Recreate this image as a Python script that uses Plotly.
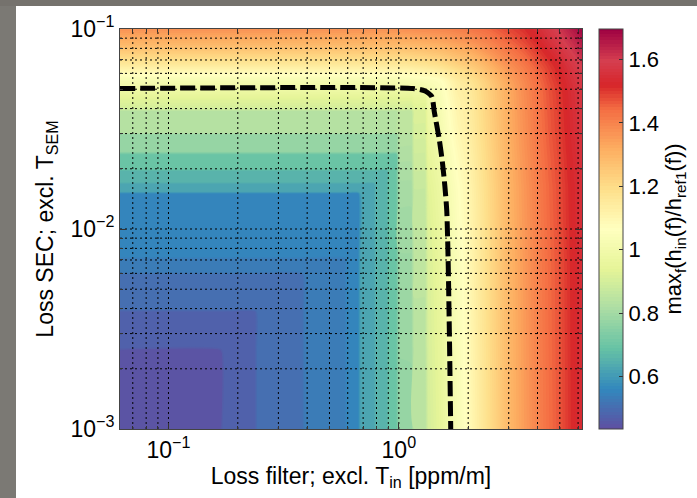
import math
import plotly.graph_objects as go

# ---------------- data ----------------
loss_filter = [0.0616, 0.1675, 0.1725, 0.2365, 0.2435, 0.380, 0.392, 0.581, 0.599,
               0.665, 0.685, 0.778, 0.802, 0.887, 0.913, 0.975, 1.005, 1.133, 1.167,
               1.30, 1.34, 1.5, 1.65, 1.8, 2.0, 2.25, 2.5, 3.0, 3.5, 4.0, 4.5, 5.0,
               5.6, 6.24]
loss_sec = [0.001, 0.00246, 0.00254, 0.00384, 0.00396, 0.00591, 0.00609, 0.00709,
            0.00731, 0.0150, 0.0154, 0.01675, 0.01725, 0.0195, 0.0201, 0.0236,
            0.0244, 0.0296, 0.0304, 0.0389, 0.0401, 0.045, 0.05, 0.055, 0.061,
            0.066, 0.075, 0.085, 0.1]
ratio_max = [
    [0.45, 0.45, 0.475, 0.475, 0.505, 0.505, 0.535, 0.535, 0.56, 0.56, 0.625, 0.625, 0.66, 0.66, 0.70, 0.70,
     0.775, 0.775, 0.84, 0.84, 0.90, 0.94, 0.99, 1.03, 1.08, 1.145, 1.20, 1.29, 1.35, 1.40, 1.44, 1.47, 1.51, 1.54],
    [0.45, 0.45, 0.475, 0.475, 0.505, 0.505, 0.535, 0.535, 0.56, 0.56, 0.625, 0.625, 0.66, 0.66, 0.70, 0.70,
     0.781, 0.781, 0.846, 0.846, 0.906, 0.946, 0.996, 1.036, 1.084, 1.148, 1.203, 1.292, 1.352, 1.402, 1.442, 1.472, 1.512, 1.542],
    [0.475, 0.475, 0.475, 0.475, 0.505, 0.505, 0.535, 0.535, 0.56, 0.56, 0.625, 0.625, 0.66, 0.66, 0.70, 0.70,
     0.781, 0.781, 0.846, 0.846, 0.906, 0.946, 0.996, 1.036, 1.084, 1.148, 1.203, 1.292, 1.352, 1.402, 1.442, 1.472, 1.512, 1.542],
    [0.475, 0.475, 0.475, 0.475, 0.505, 0.505, 0.535, 0.535, 0.56, 0.56, 0.625, 0.625, 0.66, 0.66, 0.70, 0.70,
     0.784, 0.784, 0.849, 0.849, 0.909, 0.949, 0.999, 1.039, 1.086, 1.15, 1.204, 1.293, 1.353, 1.403, 1.443, 1.473, 1.513, 1.543],
    [0.505, 0.505, 0.505, 0.505, 0.505, 0.505, 0.535, 0.535, 0.56, 0.56, 0.625, 0.625, 0.66, 0.66, 0.70, 0.70,
     0.784, 0.784, 0.849, 0.849, 0.909, 0.949, 0.999, 1.039, 1.086, 1.15, 1.204, 1.293, 1.353, 1.403, 1.443, 1.473, 1.513, 1.543],
    [0.505, 0.505, 0.505, 0.505, 0.505, 0.505, 0.535, 0.535, 0.56, 0.56, 0.625, 0.625, 0.66, 0.66, 0.70, 0.70,
     0.787, 0.787, 0.852, 0.852, 0.912, 0.952, 1.002, 1.042, 1.088, 1.152, 1.205, 1.294, 1.354, 1.404, 1.444, 1.474, 1.514, 1.544],
    [0.535, 0.535, 0.535, 0.535, 0.535, 0.535, 0.535, 0.535, 0.56, 0.56, 0.625, 0.625, 0.66, 0.66, 0.70, 0.70,
     0.787, 0.787, 0.852, 0.852, 0.912, 0.952, 1.002, 1.042, 1.088, 1.152, 1.205, 1.294, 1.354, 1.404, 1.444, 1.474, 1.514, 1.544],
    [0.535, 0.535, 0.535, 0.535, 0.535, 0.535, 0.535, 0.535, 0.56, 0.56, 0.625, 0.625, 0.66, 0.66, 0.70, 0.70,
     0.789, 0.789, 0.854, 0.854, 0.914, 0.954, 1.004, 1.044, 1.09, 1.153, 1.206, 1.295, 1.355, 1.405, 1.445, 1.475, 1.515, 1.545],
    [0.56, 0.56, 0.56, 0.56, 0.56, 0.56, 0.56, 0.56, 0.56, 0.56, 0.625, 0.625, 0.66, 0.66, 0.70, 0.70,
     0.789, 0.789, 0.854, 0.854, 0.914, 0.954, 1.004, 1.044, 1.09, 1.153, 1.206, 1.295, 1.355, 1.405, 1.445, 1.475, 1.515, 1.545],
    [0.56, 0.56, 0.56, 0.56, 0.56, 0.56, 0.56, 0.56, 0.56, 0.56, 0.625, 0.625, 0.66, 0.66, 0.70, 0.70,
     0.803, 0.803, 0.868, 0.868, 0.928, 0.968, 1.018, 1.058, 1.10, 1.16, 1.213, 1.30, 1.36, 1.41, 1.45, 1.48, 1.52, 1.55],
    [0.625, 0.625, 0.625, 0.625, 0.625, 0.625, 0.625, 0.625, 0.625, 0.625, 0.625, 0.625, 0.66, 0.66, 0.70, 0.70,
     0.804, 0.804, 0.869, 0.869, 0.929, 0.969, 1.019, 1.059, 1.10, 1.161, 1.213, 1.30, 1.36, 1.41, 1.45, 1.48, 1.52, 1.55],
    [0.625, 0.625, 0.625, 0.625, 0.625, 0.625, 0.625, 0.625, 0.625, 0.625, 0.625, 0.625, 0.66, 0.66, 0.70, 0.70,
     0.807, 0.807, 0.872, 0.872, 0.932, 0.972, 1.022, 1.062, 1.102, 1.163, 1.214, 1.301, 1.361, 1.411, 1.451, 1.481, 1.521, 1.551],
    [0.66, 0.66, 0.66, 0.66, 0.66, 0.66, 0.66, 0.66, 0.66, 0.66, 0.66, 0.66, 0.66, 0.66, 0.70, 0.70,
     0.809, 0.809, 0.874, 0.874, 0.934, 0.974, 1.024, 1.064, 1.104, 1.164, 1.215, 1.302, 1.362, 1.412, 1.452, 1.482, 1.522, 1.552],
    [0.66, 0.66, 0.66, 0.66, 0.66, 0.66, 0.66, 0.66, 0.66, 0.66, 0.66, 0.66, 0.66, 0.66, 0.70, 0.70,
     0.815, 0.815, 0.88, 0.88, 0.94, 0.98, 1.03, 1.07, 1.108, 1.167, 1.218, 1.304, 1.364, 1.414, 1.454, 1.484, 1.524, 1.554],
    [0.70, 0.70, 0.70, 0.70, 0.70, 0.70, 0.70, 0.70, 0.70, 0.70, 0.70, 0.70, 0.70, 0.70, 0.70, 0.70,
     0.816, 0.816, 0.881, 0.881, 0.941, 0.981, 1.031, 1.071, 1.109, 1.168, 1.218, 1.304, 1.364, 1.414, 1.454, 1.484, 1.524, 1.554],
    [0.70, 0.70, 0.70, 0.70, 0.70, 0.70, 0.70, 0.70, 0.70, 0.70, 0.70, 0.70, 0.70, 0.70, 0.70, 0.70,
     0.824, 0.824, 0.889, 0.889, 0.949, 0.989, 1.039, 1.079, 1.114, 1.172, 1.222, 1.307, 1.367, 1.417, 1.457, 1.487, 1.527, 1.557],
    [0.775, 0.775, 0.775, 0.775, 0.775, 0.775, 0.775, 0.775, 0.775, 0.775, 0.775, 0.775, 0.775, 0.775, 0.775, 0.775,
     0.826, 0.826, 0.891, 0.891, 0.951, 0.991, 1.041, 1.081, 1.116, 1.173, 1.223, 1.308, 1.368, 1.418, 1.458, 1.488, 1.528, 1.558],
    [0.775, 0.775, 0.775, 0.775, 0.775, 0.775, 0.775, 0.775, 0.775, 0.775, 0.775, 0.775, 0.775, 0.775, 0.775, 0.775,
     0.838, 0.838, 0.903, 0.903, 0.963, 1.003, 1.053, 1.093, 1.124, 1.18, 1.228, 1.312, 1.372, 1.422, 1.462, 1.492, 1.532, 1.562],
    [0.84, 0.84, 0.84, 0.84, 0.84, 0.84, 0.84, 0.84, 0.84, 0.84, 0.84, 0.84, 0.84, 0.84, 0.84, 0.84,
     0.85, 0.85, 0.905, 0.905, 0.965, 1.005, 1.055, 1.095, 1.126, 1.181, 1.229, 1.313, 1.373, 1.423, 1.463, 1.493, 1.533, 1.563],
    [0.84, 0.84, 0.84, 0.84, 0.84, 0.84, 0.84, 0.84, 0.84, 0.84, 0.84, 0.84, 0.84, 0.84, 0.84, 0.84,
     0.86, 0.86, 0.917, 0.917, 0.977, 1.017, 1.067, 1.107, 1.134, 1.187, 1.235, 1.317, 1.377, 1.427, 1.467, 1.497, 1.537, 1.567],
    [0.90, 0.90, 0.90, 0.90, 0.90, 0.90, 0.90, 0.90, 0.90, 0.90, 0.90, 0.90, 0.90, 0.90, 0.90, 0.90,
     0.905, 0.905, 0.925, 0.925, 0.985, 1.019, 1.069, 1.109, 1.135, 1.188, 1.236, 1.318, 1.378, 1.428, 1.468, 1.498, 1.538, 1.568],
    [0.935, 0.935, 0.935, 0.935, 0.935, 0.935, 0.935, 0.935, 0.935, 0.935, 0.935, 0.935, 0.935, 0.935, 0.935, 0.935,
     0.94, 0.94, 0.955, 0.955, 0.995, 1.03, 1.076, 1.116, 1.14, 1.192, 1.239, 1.32, 1.38, 1.43, 1.47, 1.50, 1.54, 1.57],
    [0.985, 0.985, 0.985, 0.985, 0.985, 0.985, 0.985, 0.985, 0.985, 0.985, 0.985, 0.985, 0.985, 0.985, 0.985, 0.985,
     0.99, 0.99, 0.995, 1.0, 1.015, 1.04, 1.085, 1.125, 1.147, 1.197, 1.243, 1.323, 1.383, 1.433, 1.473, 1.503, 1.543, 1.573],
    [1.02, 1.02, 1.02, 1.02, 1.02, 1.02, 1.02, 1.02, 1.02, 1.02, 1.02, 1.02, 1.02, 1.02, 1.02, 1.02,
     1.025, 1.03, 1.032, 1.038, 1.04, 1.055, 1.10, 1.14, 1.165, 1.21, 1.255, 1.335, 1.39, 1.44, 1.48, 1.51, 1.55, 1.58],
    [1.09, 1.09, 1.09, 1.09, 1.09, 1.09, 1.09, 1.09, 1.09, 1.09, 1.09, 1.09, 1.09, 1.09, 1.09, 1.09,
     1.093, 1.097, 1.10, 1.11, 1.113, 1.13, 1.155, 1.18, 1.205, 1.245, 1.285, 1.355, 1.405, 1.45, 1.49, 1.52, 1.56, 1.59],
    [1.15, 1.15, 1.15, 1.15, 1.15, 1.15, 1.15, 1.15, 1.15, 1.15, 1.15, 1.15, 1.15, 1.15, 1.15, 1.15,
     1.153, 1.157, 1.16, 1.17, 1.173, 1.185, 1.205, 1.225, 1.245, 1.275, 1.31, 1.375, 1.42, 1.465, 1.50, 1.53, 1.57, 1.60],
    [1.23, 1.23, 1.23, 1.23, 1.23, 1.23, 1.23, 1.23, 1.23, 1.23, 1.23, 1.23, 1.23, 1.23, 1.23, 1.23,
     1.232, 1.236, 1.238, 1.245, 1.248, 1.258, 1.272, 1.287, 1.30, 1.33, 1.36, 1.41, 1.45, 1.49, 1.525, 1.555, 1.59, 1.625],
    [1.30, 1.30, 1.30, 1.30, 1.30, 1.30, 1.30, 1.30, 1.30, 1.30, 1.30, 1.30, 1.30, 1.30, 1.30, 1.30,
     1.302, 1.305, 1.306, 1.312, 1.314, 1.322, 1.333, 1.345, 1.357, 1.38, 1.40, 1.445, 1.48, 1.515, 1.55, 1.58, 1.615, 1.65],
    [1.37, 1.37, 1.37, 1.37, 1.37, 1.37, 1.37, 1.37, 1.37, 1.37, 1.37, 1.37, 1.37, 1.37, 1.37, 1.37,
     1.375, 1.378, 1.38, 1.385, 1.387, 1.393, 1.40, 1.41, 1.42, 1.435, 1.45, 1.485, 1.51, 1.54, 1.575, 1.61, 1.65, 1.69],
]

# dashed requirement curve
req_filter = [0.0616, 1.15, 1.30, 1.39, 1.425, 1.494, 1.545, 1.585, 1.615, 1.637, 1.66, 1.68]
req_sec = [0.0504, 0.0504, 0.0490, 0.0460, 0.0386, 0.0286, 0.0217, 0.0163, 0.0123, 0.0070, 0.0027, 0.001]

# axis ticks / grid
x_grid = [0.07, 0.08, 0.09, 0.1, 0.2, 0.3, 0.4, 0.5, 0.6, 0.7, 0.8, 0.9, 1, 2, 3, 4, 5, 6]
y_grid = [0.002, 0.003, 0.004, 0.005, 0.006, 0.007, 0.008, 0.009, 0.01,
          0.02, 0.03, 0.04, 0.05, 0.06, 0.07, 0.08, 0.09]
x_major = [0.1, 1]
x_major_text = ["10<sup>\u22121</sup>", "10<sup>0</sup>"]
y_major = [0.001, 0.01, 0.1]
y_major_text = ["10<sup>\u22123</sup>", "10<sup>\u22122</sup>", "10<sup>\u22121</sup>"]
cbar_ticks = [0.6, 0.8, 1.0, 1.2, 1.4, 1.6]
cbar_text = ["0.6", "0.8", "1", "1.2", "1.4", "1.6"]
z_lo, z_hi = 0.435, 1.696
x_lo, x_hi = 0.0616, 6.24
y_lo, y_hi = 0.001, 0.1

spectral = [
    [0.0, "#5e4fa2"], [0.1, "#3288bd"], [0.2, "#66c2a5"], [0.3, "#abdda4"],
    [0.4, "#e6f598"], [0.5, "#ffffbf"], [0.6, "#fee08b"], [0.7, "#fdae61"],
    [0.8, "#f46d43"], [0.86, "#d7262a"], [0.92, "#d53e4f"], [1.0, "#9e0142"],
]

FONT = "Liberation Sans, Arial, sans-serif"
FS = 23

fig = go.Figure()

fig.add_trace(go.Contour(
    x=loss_filter, y=loss_sec, z=ratio_max,
    colorscale=spectral, zmin=z_lo, zmax=z_hi, zauto=False,
    autocontour=False,
    contours=dict(start=0.43, end=1.70, size=0.01, coloring="fill", showlines=False),
    line=dict(width=0),
    colorbar=dict(
        x=(599 - 120) / 462, xanchor="left", xpad=0,
        y=0.5, yanchor="middle", ypad=0, len=1, lenmode="fraction",
        thickness=24, outlinewidth=1, outlinecolor="#444",
        tickvals=cbar_ticks, ticktext=cbar_text,
        ticks="inside", ticklen=4, tickcolor="#333",
        tickfont=dict(family=FONT, size=22, color="black"),
        title=dict(text="max<sub>f</sub>(h<sub>in</sub>(f)/h<sub>ref1</sub>(f))",
                   side="right", font=dict(family=FONT, size=22, color="black")),
    ),
    hoverinfo="skip",
))

# grid lines (dotted, above the filled contours)
gx, gy = [], []
for v in x_grid:
    gx += [v, v, None]
    gy += [y_lo, y_hi, None]
for v in y_grid:
    gx += [x_lo, x_hi, None]
    gy += [v, v, None]
fig.add_trace(go.Scatter(x=gx, y=gy, mode="lines", hoverinfo="skip",
                         line=dict(color="black", width=1, dash="2px,3px"),
                         showlegend=False))

fig.add_trace(go.Scatter(x=req_filter, y=req_sec, mode="lines", hoverinfo="skip",
                         line=dict(color="black", width=5, dash="15px,5px", shape="spline", smoothing=0.6),
                         showlegend=False))

W, H = 697, 498
L, R, T, B = 120, 582, 29, 429
fig.update_layout(
    width=W, height=H, autosize=False,
    margin=dict(l=L, r=W - R, t=T, b=H - B, pad=0, autoexpand=False),
    paper_bgcolor="white", plot_bgcolor="white",
    font=dict(family=FONT, size=FS, color="black"),
    showlegend=False,
    xaxis=dict(type="log", range=[math.log10(x_lo), math.log10(x_hi)],
               automargin=False,
               tickvals=x_major, ticktext=x_major_text,
               ticks="inside", ticklen=6, tickcolor="#333",
               minor=dict(tickvals=x_grid, ticks="inside", ticklen=3, tickcolor="#333"),
               showgrid=False, zeroline=False,
               showline=True, linecolor="#444", linewidth=1, mirror="ticks",
               tickfont=dict(size=FS),
               title=dict(text="Loss filter; excl. T<sub>in</sub> [ppm/m]", standoff=0,
                          font=dict(size=FS))),
    yaxis=dict(type="log", range=[math.log10(y_lo), math.log10(y_hi)],
               automargin=False,
               tickvals=y_major, ticktext=y_major_text,
               ticks="inside", ticklen=6, tickcolor="#333",
               minor=dict(tickvals=y_grid, ticks="inside", ticklen=3, tickcolor="#333"),
               showgrid=False, zeroline=False,
               showline=True, linecolor="#444", linewidth=1, mirror="ticks",
               tickfont=dict(size=FS),
               title=dict(text="Loss SEC; excl. T<sub>SEM</sub>", standoff=10,
                          font=dict(size=FS))),
    shapes=[
        dict(type="rect", xref="paper", yref="paper", layer="below",
             x0=(0 - L) / (R - L), x1=(16 - L) / (R - L),
             y0=(B - H) / (B - T), y1=(B - 0) / (B - T),
             fillcolor="#7b7974", line=dict(width=0)),
        dict(type="rect", xref="paper", yref="paper", layer="below",
             x0=(0 - L) / (R - L), x1=(W - L) / (R - L),
             y0=(B - 6) / (B - T), y1=(B - 0) / (B - T),
             fillcolor="#75726d", line=dict(width=0)),
    ],
)

fig.write_html("out.html")
